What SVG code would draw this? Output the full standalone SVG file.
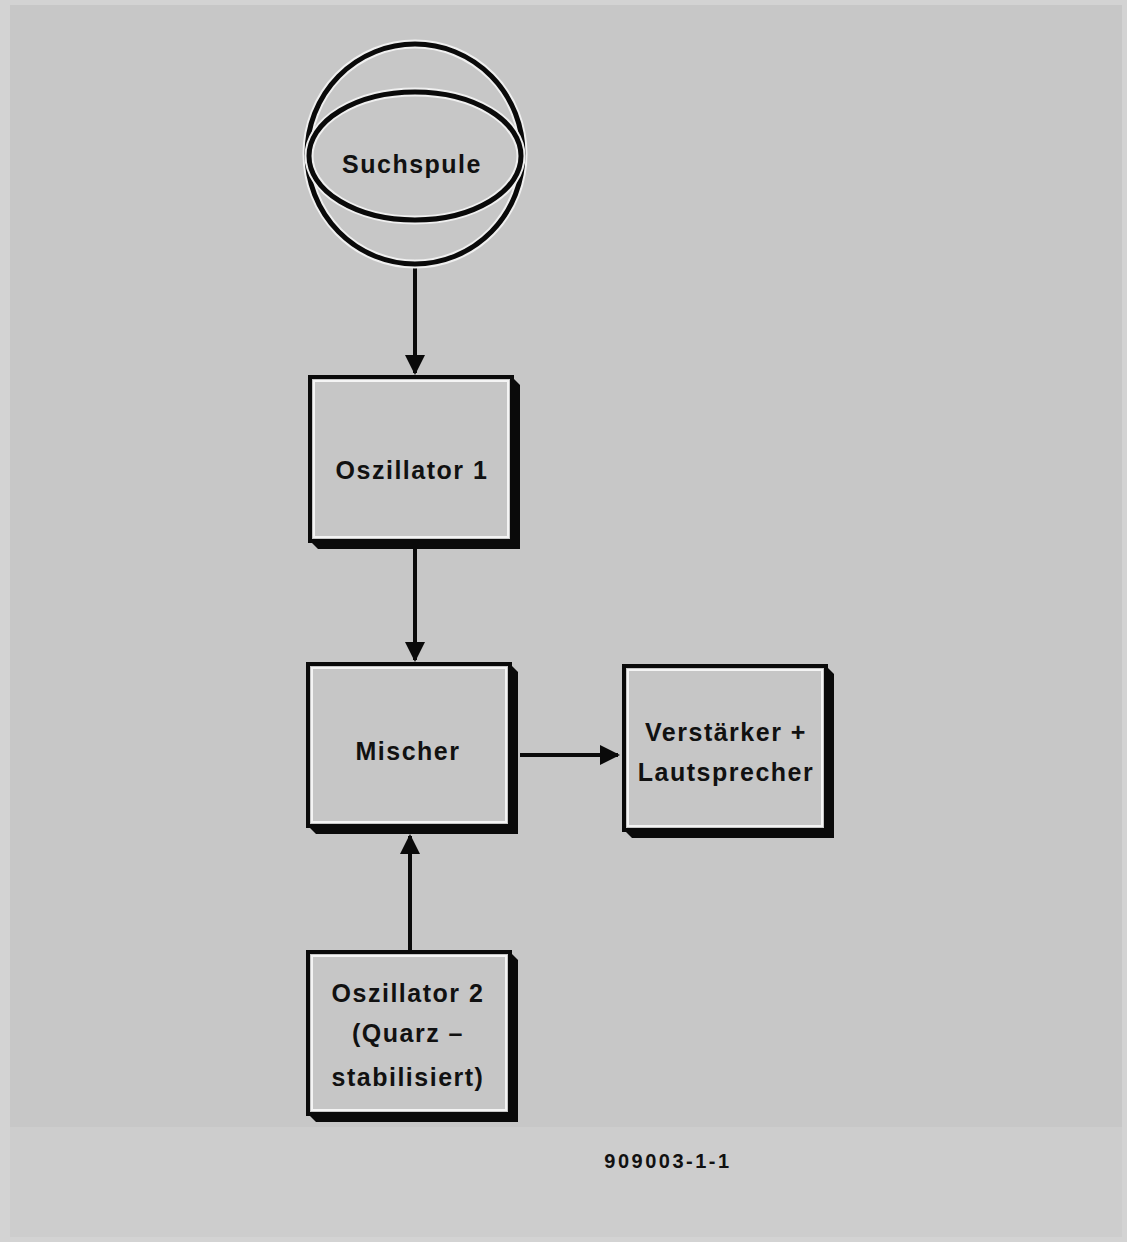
<svg xmlns="http://www.w3.org/2000/svg" width="1127" height="1242" viewBox="0 0 1127 1242">
<defs>
<style>
.lbl{font-family:"Liberation Sans",Arial,sans-serif;font-weight:bold;font-size:25px;fill:#111;text-anchor:middle;letter-spacing:1.5px}
.box{fill:#c6c6c6;stroke:#0a0a0a;stroke-width:4}
.shadow{fill:#0a0a0a}
.hl{fill:none;stroke:#f4f4f4;stroke-width:2}
.wire{stroke:#0a0a0a;stroke-width:4;fill:none}
.coil{fill:none;stroke:#0a0a0a;stroke-width:5}
.coilhl{fill:none;stroke:#f0f0f0;stroke-width:9}
</style>
<marker id="arr" viewBox="0 0 10 10" refX="9" refY="5" markerWidth="5" markerHeight="5" orient="auto" markerUnits="strokeWidth">
<path d="M0,0 L10,5 L0,10 z" fill="#0a0a0a"/>
</marker>
</defs>
<rect x="0" y="0" width="1127" height="1242" fill="#d3d3d3"/>
<rect x="10" y="5" width="1112" height="1122" fill="#c7c7c7"/>
<rect x="10" y="1127" width="1112" height="110" fill="#cdcdcd"/>

<g id="connectors">
<line class="wire" x1="415" y1="266" x2="415" y2="373" marker-end="url(#arr)"/>
<line class="wire" x1="415" y1="548" x2="415" y2="660" marker-end="url(#arr)"/>
<line class="wire" x1="520" y1="755" x2="618" y2="755" marker-end="url(#arr)"/>
<line class="wire" x1="410" y1="950" x2="410" y2="836" marker-end="url(#arr)"/>
</g>

<g id="suchspule">
<ellipse class="coilhl" cx="415" cy="154" rx="108" ry="110"/>
<ellipse class="coil" cx="415" cy="154" rx="108" ry="110"/>
<ellipse class="coilhl" cx="415" cy="156" rx="106" ry="64"/>
<ellipse class="coil" cx="415" cy="156" rx="106" ry="64"/>
<text class="lbl" x="412" y="173">Suchspule</text>
</g>

<g id="oszillator1">
<path class="shadow" d="M512,377 L520,385 L520,549 L318,549 L310,541 L512,541 z"/>
<rect class="box" x="310" y="377" width="202" height="164"/>
<rect class="hl" x="314" y="381" width="194" height="156"/>
<text class="lbl" x="412" y="479">Oszillator 1</text>
</g>

<g id="mischer">
<path class="shadow" d="M510,664 L518,672 L518,834 L316,834 L308,826 L510,826 z"/>
<rect class="box" x="308" y="664" width="202" height="162"/>
<rect class="hl" x="312" y="668" width="194" height="154"/>
<text class="lbl" x="408" y="760">Mischer</text>
</g>

<g id="verstaerker">
<path class="shadow" d="M826,666 L834,674 L834,838 L632,838 L624,830 L826,830 z"/>
<rect class="box" x="624" y="666" width="202" height="164"/>
<rect class="hl" x="628" y="670" width="194" height="156"/>
<text class="lbl" x="726" y="741">Verstärker +</text>
<text class="lbl" x="726" y="781">Lautsprecher</text>
</g>

<g id="oszillator2">
<path class="shadow" d="M510,952 L518,960 L518,1122 L316,1122 L308,1114 L510,1114 z"/>
<rect class="box" x="308" y="952" width="202" height="162"/>
<rect class="hl" x="312" y="956" width="194" height="154"/>
<text class="lbl" x="408" y="1002">Oszillator 2</text>
<text class="lbl" x="408" y="1042">(Quarz –</text>
<text class="lbl" x="408" y="1086">stabilisiert)</text>
</g>

<text x="668" y="1168" style="font-family:'Liberation Sans',Arial,sans-serif;font-weight:bold;font-size:20px;letter-spacing:2.5px;fill:#111;text-anchor:middle">909003-1-1</text>
</svg>
